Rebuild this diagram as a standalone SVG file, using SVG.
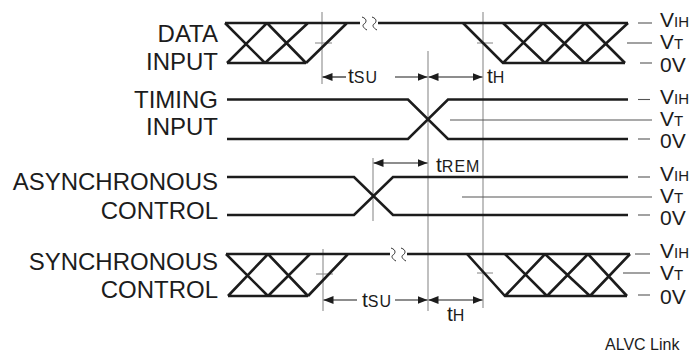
<svg xmlns="http://www.w3.org/2000/svg" width="694" height="354" viewBox="0 0 694 354">
<style>
.sig{stroke:#1c1c1c;stroke-width:2.6;fill:none;stroke-linejoin:miter}
.ref{stroke:#8c8c8c;stroke-width:1.1;fill:none}
.dash{stroke:#555;stroke-width:1.1;fill:none}
.brk{stroke:#333;stroke-width:1;fill:none}
.arr{stroke:#1c1c1c;stroke-width:1.2;fill:none}
.lbl{font-family:"Liberation Sans",Arial,Helvetica,sans-serif;font-size:24px;fill:#1c1c1c}
.v{font-family:"Liberation Sans",Arial,Helvetica,sans-serif;font-size:21px;fill:#1c1c1c}
.sub{font-size:15px}
.t{font-family:"Liberation Sans",Arial,Helvetica,sans-serif;font-size:21px;fill:#1c1c1c}
.ts{font-size:16px;letter-spacing:1px}
.note{font-family:"Liberation Sans",Arial,Helvetica,sans-serif;font-size:16px;fill:#1c1c1c}
</style>
<defs>
<marker id="ah" viewBox="0 0 10 8" refX="10" refY="4" markerWidth="10" markerHeight="8" markerUnits="userSpaceOnUse" orient="auto-start-reverse">
<path d="M0,0 L10,4 L0,8 z" fill="#1c1c1c"/>
</marker>
</defs>
<rect width="694" height="354" fill="#fff"/>

<g id="reference-lines">
<line class="ref" x1="322" y1="12" x2="322" y2="84"/>
<line class="ref" x1="483" y1="12" x2="483" y2="308"/>
<line class="ref" x1="428" y1="51" x2="428" y2="311"/>
<line class="ref" x1="373" y1="158" x2="373" y2="221"/>
<line class="ref" x1="323" y1="249" x2="323" y2="311"/>
<line class="ref" x1="315" y1="43" x2="332" y2="43"/>
<line class="ref" x1="477" y1="43" x2="493" y2="43"/>
<line class="ref" x1="316" y1="274" x2="333" y2="274"/>
<line class="ref" x1="477" y1="273" x2="493" y2="273"/>
</g>

<g id="data-input">
<text class="lbl" x="218" y="42" text-anchor="end">DATA</text>
<text class="lbl" x="218" y="70" text-anchor="end">INPUT</text>
<path class="sig" d="M225,23 H360 M378,23 H628 M227,63 H306 M225,23 L265,63 M227,63 L267,23 M267,23 L306,63 M265,63 L308,23 M306,63 L347,23"/>
<path class="sig" d="M463,23 L503,63 H625 M503,23 L545,63 M543,23 L585,63 M585,23 L625,63 M503,63 L543,23 M545,63 L585,23 M585,63 L628,23"/>
<path class="brk" d="M362,17 C368,19 366,23 364,24 C362,25 363,28 367,30 M372,17 C378,19 376,23 374,24 C372,25 373,28 377,30"/>
<line class="dash" x1="638" y1="23" x2="652" y2="23"/>
<line class="dash" x1="627" y1="43" x2="652" y2="43"/>
<line class="dash" x1="640" y1="63" x2="652" y2="63"/>
<text class="v" x="660" y="27">V<tspan class="sub">IH</tspan></text>
<text class="v" x="660" y="49">V<tspan class="sub">T</tspan></text>
<text class="v" x="660" y="72">0V</text>
</g>

<g id="timing-input">
<text class="lbl" x="218" y="108" text-anchor="end">TIMING</text>
<text class="lbl" x="218" y="135" text-anchor="end">INPUT</text>
<path class="sig" d="M227,99.5 H408 L448,139 H628 M227,139 H408 L448,99.5 H628"/>
<line class="dash" x1="450" y1="120" x2="652" y2="120"/>
<line class="dash" x1="638" y1="99.5" x2="650" y2="99.5"/>
<line class="dash" x1="638" y1="139" x2="650" y2="139"/>
<text class="v" x="660" y="104">V<tspan class="sub">IH</tspan></text>
<text class="v" x="660" y="126">V<tspan class="sub">T</tspan></text>
<text class="v" x="660" y="148">0V</text>
</g>

<g id="asynchronous-control">
<text class="lbl" x="218" y="190" text-anchor="end">ASYNCHRONOUS</text>
<text class="lbl" x="218" y="219" text-anchor="end">CONTROL</text>
<path class="sig" d="M227,177 H354 L393,215 H628 M227,215 H354 L393,177 H628"/>
<line class="dash" x1="462" y1="197" x2="652" y2="197"/>
<line class="dash" x1="638" y1="177" x2="650" y2="177"/>
<line class="dash" x1="638" y1="215" x2="650" y2="215"/>
<text class="v" x="660" y="181">V<tspan class="sub">IH</tspan></text>
<text class="v" x="660" y="203">V<tspan class="sub">T</tspan></text>
<text class="v" x="660" y="225">0V</text>
</g>

<g id="synchronous-control">
<text class="lbl" x="218" y="270" text-anchor="end">SYNCHRONOUS</text>
<text class="lbl" x="218" y="298" text-anchor="end">CONTROL</text>
<path class="sig" d="M226,254 H390 M407,254 H630 M228,296 H308 M226,254 L268,296 M228,296 L268,254 M268,254 L308,296 M268,296 L310,254 M308,296 L348,254"/>
<path class="sig" d="M467,254 L505,296 H627 M505,254 L547,296 M545,254 L590,296 M588,254 L627,296 M505,296 L545,254 M547,296 L588,254 M590,296 L630,254"/>
<path class="brk" d="M391,248 C397,250 395,254 393,255 C391,256 392,259 396,261 M401,248 C407,250 405,254 403,255 C401,256 402,259 406,261"/>
<line class="dash" x1="635" y1="254" x2="650" y2="254"/>
<line class="dash" x1="623" y1="273" x2="650" y2="273"/>
<line class="dash" x1="638" y1="295" x2="650" y2="295"/>
<text class="v" x="660" y="258">V<tspan class="sub">IH</tspan></text>
<text class="v" x="660" y="280">V<tspan class="sub">T</tspan></text>
<text class="v" x="660" y="304">0V</text>
</g>

<g id="connectors">
<line class="arr" x1="346" y1="77" x2="322.5" y2="77" marker-end="url(#ah)"/>
<line class="arr" x1="395" y1="77" x2="427.5" y2="77" marker-end="url(#ah)"/>
<line class="arr" x1="428.5" y1="77" x2="482.5" y2="77" marker-start="url(#ah)" marker-end="url(#ah)"/>
<line class="arr" x1="373.5" y1="163" x2="427.5" y2="163" marker-start="url(#ah)" marker-end="url(#ah)"/>
<line class="arr" x1="357" y1="300" x2="323.5" y2="300" marker-end="url(#ah)"/>
<line class="arr" x1="395" y1="300" x2="427.5" y2="300" marker-end="url(#ah)"/>
<line class="arr" x1="428.5" y1="300" x2="482.5" y2="300" marker-start="url(#ah)" marker-end="url(#ah)"/>
</g>

<g id="timing-labels">
<text class="t" x="348" y="83">t<tspan class="ts">SU</tspan></text>
<text class="t" x="487" y="83">t<tspan class="ts">H</tspan></text>
<text class="t" x="436" y="172">t<tspan class="ts">REM</tspan></text>
<text class="t" x="362" y="307">t<tspan class="ts">SU</tspan></text>
<text class="t" x="447" y="321">t<tspan class="ts">H</tspan></text>
</g>

<text class="note" x="605" y="350">ALVC Link</text>
</svg>
